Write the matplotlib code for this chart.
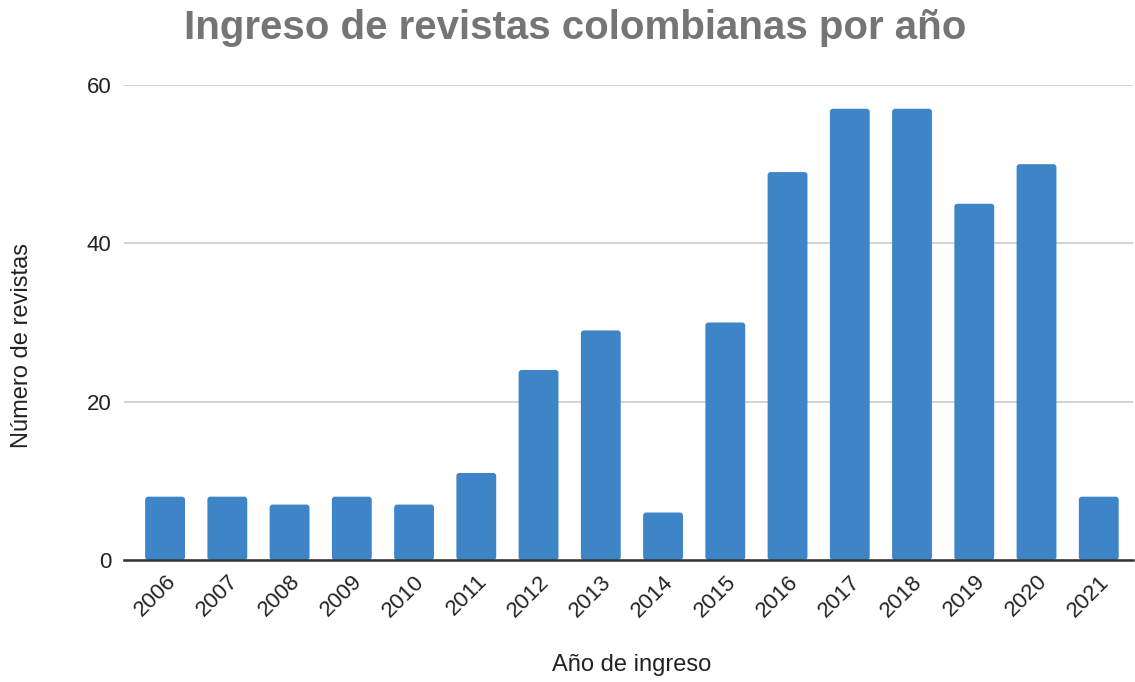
import matplotlib
matplotlib.use("Agg")
import matplotlib.pyplot as plt
from matplotlib.patches import FancyBboxPatch

years = ["2006", "2007", "2008", "2009", "2010", "2011", "2012", "2013",
         "2014", "2015", "2016", "2017", "2018", "2019", "2020", "2021"]
counts = [8, 8, 7, 8, 7, 11, 24, 29, 6, 30, 49, 57, 57, 45, 50, 8]
yticks = [0, 20, 40, 60]

plt.rcParams['font.family'] = ['Liberation Sans', 'DejaVu Sans']

fig = plt.figure(figsize=(11.35, 6.82), dpi=100)
ax = fig.add_axes([124/1135, 1-560/682, (1133-124)/1135, (560-85)/682])

x = list(range(len(years)))
bars = ax.bar(x, counts, width=0.64, color="#3d85c6", zorder=3)

ax.set_xlim(-0.66, len(years) - 1 + 0.55)
ax.set_ylim(0, 60)

# rounded top corners
px_x = (1133 - 124) / (len(years) - 1 + 0.55 + 0.66)
px_y = (560 - 85) / 60
r = 3.0 / px_x
for b in bars:
    bx, by, bw, bh = b.get_x(), b.get_y(), b.get_width(), b.get_height()
    b.set_visible(False)
    p = FancyBboxPatch((bx, by), bw, bh, boxstyle=f"round,pad=0,rounding_size={r}",
                       mutation_aspect=px_x / px_y, facecolor="#3d85c6",
                       edgecolor="none", zorder=3)
    ax.add_patch(p)

ax.set_yticks(yticks)
ax.set_xticks(x)
ax.set_xticklabels(years, rotation=45, ha="right", va="top", rotation_mode="anchor",
                   fontsize=16, color="#222222")
ax.tick_params(axis="y", labelsize=16, labelcolor="#222222", length=0, pad=9)
ax.tick_params(axis="x", length=0, pad=8)
ax.grid(axis="y", color="#cccccc", linewidth=1.2, zorder=0)
for s in ["top", "right", "left"]:
    ax.spines[s].set_visible(False)
ax.spines["bottom"].set_color("#333333")
ax.spines["bottom"].set_linewidth(1.8)
ax.spines["bottom"].set_zorder(4)

fig.text(575/1135, 1-28/682, "Ingreso de revistas colombianas por año", ha="center", va="center",
         fontsize=29, fontweight="bold", color="#757575")
fig.text(632/1135, 1-665/682, "Año de ingreso", ha="center", va="center", fontsize=17, color="#222222")
fig.text(22/1135, 1-345/682, "Número de revistas", ha="center", va="center", rotation=90,
         fontsize=17, color="#222222")

fig.savefig("out.png", dpi=100)
